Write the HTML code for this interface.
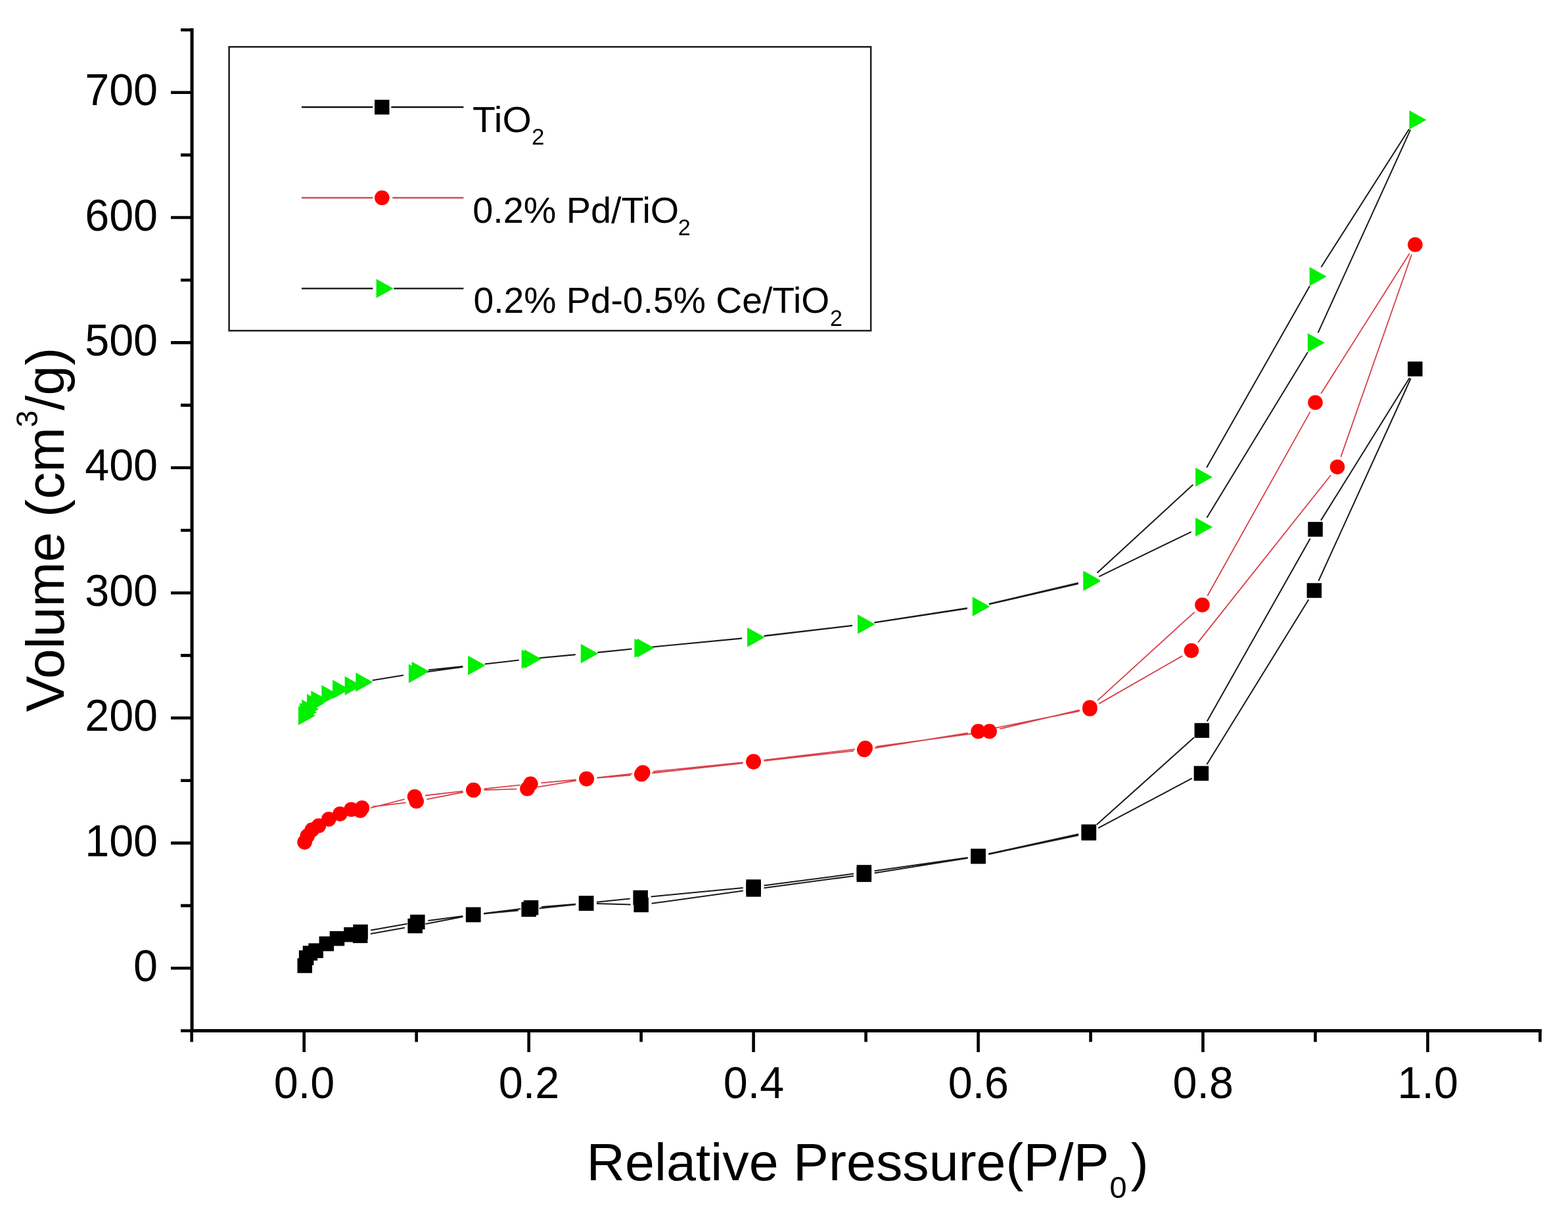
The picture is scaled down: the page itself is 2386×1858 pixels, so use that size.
<!DOCTYPE html>
<html><head><meta charset="utf-8"><title>Isotherm</title>
<style>html,body{margin:0;padding:0;background:#fff;overflow:hidden;width:2386px;height:1858px;}svg{display:block;}</style>
</head><body>
<svg width="2386" height="1858" viewBox="0 0 2386 1858">
<rect width="2386" height="1858" fill="#ffffff"/>
<g fill="none" stroke-linecap="butt">
<path d="M563.9 1421.0L615.9 1411.8M647.3 1405.9L704.5 1395.0M736.1 1390.5L788.7 1385.4M820.6 1382.2L876.1 1376.4M908.0 1375.1L959.6 1376.5M991.5 1374.8L1130.8 1355.6M1162.5 1351.2L1299.0 1333.0M1330.7 1328.4L1472.8 1305.8M1504.2 1300.0L1641.2 1271.0M1671.0 1260.2L1813.8 1184.4M1836.4 1163.3L1991.4 912.2M2006.4 884.0L2146.7 576.0M2144.9 575.0L2010.0 791.9M1993.7 819.4L1836.7 1097.7M1816.9 1122.3L1668.7 1255.1M1641.2 1269.2L1504.2 1299.3M1472.7 1305.0L1330.7 1325.2M1299.0 1329.6L1162.5 1347.5M1130.7 1351.1L990.5 1364.4M958.7 1367.6L907.9 1372.8M876.1 1375.8L824.0 1379.9M792.2 1383.1L736.1 1389.9M704.3 1393.9L651.3 1401.0M619.6 1405.8L564.3 1415.4" stroke="#1a1a1a" stroke-width="2.0"/>
<path d="M566.8 1227.5L617.8 1221.3M649.4 1216.3L704.8 1205.5M736.5 1202.0L786.4 1200.7M818.2 1197.7L876.8 1187.9M908.5 1183.9L960.2 1179.6M992.1 1176.5L1130.7 1161.3M1162.5 1157.8L1299.3 1142.7M1331.0 1138.4L1472.8 1115.5M1504.3 1109.8L1642.7 1082.0M1672.2 1070.9L1799.1 998.1M1822.9 977.6L2025.1 723.0M2040.3 695.4L2148.1 387.3M2144.8 385.7L2010.1 599.1M1993.7 626.6L1837.3 906.7M1817.7 931.4L1670.2 1065.8M1642.8 1080.3L1521.2 1109.2M1489.8 1115.0L1332.6 1136.1M1300.9 1140.1L1162.5 1156.7M1130.7 1160.2L994.1 1174.0M962.3 1177.3L908.4 1183.3M876.6 1186.5L823.3 1191.4M791.5 1194.6L736.5 1200.3M704.6 1203.8L647.0 1210.5M615.6 1216.2L563.7 1229.5" stroke="#d8404a" stroke-width="1.8"/>
<path d="M566.7 1035.2L614.0 1027.6M647.2 1022.7L704.4 1014.9M737.7 1010.6L785.6 1005.0M819.0 1001.5L875.8 996.2M909.3 993.0L957.4 988.0M990.8 984.7L1129.2 971.5M1162.6 968.0L1297.2 952.1M1330.4 947.6L1472.0 925.9M1505.0 919.6L1640.8 888.4M1672.3 877.3L1812.7 809.4M1836.5 787.7L1989.9 536.0M2005.6 506.3L2146.2 197.7M2144.2 196.5L2010.4 406.5M1993.0 435.3L1836.1 711.5M1815.4 737.5L1669.5 871.8M1640.8 887.0L1504.9 918.9M1472.0 925.3L1330.4 947.2M1297.2 951.7L1162.6 967.6M1129.2 971.2L994.9 984.3M961.5 987.6L909.3 992.8M875.8 996.1L823.3 1001.1M789.8 1004.6L737.7 1010.5M704.3 1014.1L651.9 1019.5" stroke="#1a1a1a" stroke-width="2.0"/>
</g>
<g>
<rect x="452.5" y="1458.2" width="22.5" height="22.5" fill="#000"/>
<rect x="454.9" y="1446.2" width="22.5" height="22.5" fill="#000"/>
<rect x="460.7" y="1439.2" width="22.5" height="22.5" fill="#000"/>
<rect x="469.4" y="1435.4" width="22.5" height="22.5" fill="#000"/>
<rect x="485.6" y="1424.9" width="22.5" height="22.5" fill="#000"/>
<rect x="501.7" y="1416.9" width="22.5" height="22.5" fill="#000"/>
<rect x="523.3" y="1411.0" width="22.5" height="22.5" fill="#000"/>
<rect x="536.9" y="1412.6" width="22.5" height="22.5" fill="#000"/>
<rect x="620.4" y="1397.7" width="22.5" height="22.5" fill="#000"/>
<rect x="708.9" y="1380.8" width="22.5" height="22.5" fill="#000"/>
<rect x="793.4" y="1372.6" width="22.5" height="22.5" fill="#000"/>
<rect x="880.8" y="1363.4" width="22.5" height="22.5" fill="#000"/>
<rect x="964.4" y="1365.7" width="22.5" height="22.5" fill="#000"/>
<rect x="1135.4" y="1342.1" width="22.5" height="22.5" fill="#000"/>
<rect x="1303.6" y="1319.6" width="22.5" height="22.5" fill="#000"/>
<rect x="1477.3" y="1292.0" width="22.5" height="22.5" fill="#000"/>
<rect x="1645.6" y="1256.4" width="22.5" height="22.5" fill="#000"/>
<rect x="1816.7" y="1165.6" width="22.5" height="22.5" fill="#000"/>
<rect x="1988.6" y="887.3" width="22.5" height="22.5" fill="#000"/>
<rect x="2142.1" y="550.2" width="22.5" height="22.5" fill="#000"/>
<rect x="1990.3" y="794.2" width="22.5" height="22.5" fill="#000"/>
<rect x="1817.6" y="1100.3" width="22.5" height="22.5" fill="#000"/>
<rect x="1645.6" y="1254.5" width="22.5" height="22.5" fill="#000"/>
<rect x="1477.3" y="1291.5" width="22.5" height="22.5" fill="#000"/>
<rect x="1303.6" y="1316.2" width="22.5" height="22.5" fill="#000"/>
<rect x="1135.4" y="1338.3" width="22.5" height="22.5" fill="#000"/>
<rect x="963.4" y="1354.7" width="22.5" height="22.5" fill="#000"/>
<rect x="880.8" y="1363.2" width="22.5" height="22.5" fill="#000"/>
<rect x="796.8" y="1369.9" width="22.5" height="22.5" fill="#000"/>
<rect x="708.9" y="1380.6" width="22.5" height="22.5" fill="#000"/>
<rect x="624.1" y="1391.8" width="22.5" height="22.5" fill="#000"/>
<rect x="537.3" y="1406.8" width="22.5" height="22.5" fill="#000"/>
<circle cx="463.6" cy="1281.6" r="11.3" fill="#ff0000"/>
<circle cx="467.8" cy="1272.1" r="11.3" fill="#ff0000"/>
<circle cx="474.7" cy="1262.9" r="11.3" fill="#ff0000"/>
<circle cx="484.9" cy="1256.5" r="11.3" fill="#ff0000"/>
<circle cx="500.3" cy="1246.6" r="11.3" fill="#ff0000"/>
<circle cx="517.4" cy="1238.6" r="11.3" fill="#ff0000"/>
<circle cx="534.5" cy="1231.7" r="11.3" fill="#ff0000"/>
<circle cx="550.9" cy="1229.4" r="11.3" fill="#ff0000"/>
<circle cx="633.7" cy="1219.3" r="11.3" fill="#ff0000"/>
<circle cx="720.5" cy="1202.4" r="11.3" fill="#ff0000"/>
<circle cx="802.4" cy="1200.3" r="11.3" fill="#ff0000"/>
<circle cx="892.5" cy="1185.3" r="11.3" fill="#ff0000"/>
<circle cx="976.2" cy="1178.2" r="11.3" fill="#ff0000"/>
<circle cx="1146.6" cy="1159.6" r="11.3" fill="#ff0000"/>
<circle cx="1315.2" cy="1140.9" r="11.3" fill="#ff0000"/>
<circle cx="1488.6" cy="1112.9" r="11.3" fill="#ff0000"/>
<circle cx="1658.4" cy="1078.8" r="11.3" fill="#ff0000"/>
<circle cx="1812.9" cy="990.1" r="11.3" fill="#ff0000"/>
<circle cx="2035.0" cy="710.5" r="11.3" fill="#ff0000"/>
<circle cx="2153.4" cy="372.2" r="11.3" fill="#ff0000"/>
<circle cx="2001.5" cy="612.6" r="11.3" fill="#ff0000"/>
<circle cx="1829.5" cy="920.6" r="11.3" fill="#ff0000"/>
<circle cx="1658.4" cy="1076.6" r="11.3" fill="#ff0000"/>
<circle cx="1505.7" cy="1112.9" r="11.3" fill="#ff0000"/>
<circle cx="1316.7" cy="1138.2" r="11.3" fill="#ff0000"/>
<circle cx="1146.6" cy="1158.6" r="11.3" fill="#ff0000"/>
<circle cx="978.2" cy="1175.6" r="11.3" fill="#ff0000"/>
<circle cx="892.5" cy="1185.1" r="11.3" fill="#ff0000"/>
<circle cx="807.4" cy="1192.9" r="11.3" fill="#ff0000"/>
<circle cx="720.5" cy="1202.0" r="11.3" fill="#ff0000"/>
<circle cx="631.1" cy="1212.3" r="11.3" fill="#ff0000"/>
<circle cx="548.2" cy="1233.4" r="11.3" fill="#ff0000"/>
<path d="M454.0 1074.4L480.0 1088.9L454.0 1103.4Z" fill="#00f000"/>
<path d="M456.1 1069.5L482.1 1084.0L456.1 1098.5Z" fill="#00f000"/>
<path d="M459.2 1064.5L485.2 1079.0L459.2 1093.5Z" fill="#00f000"/>
<path d="M467.0 1056.0L493.0 1070.5L467.0 1085.0Z" fill="#00f000"/>
<path d="M473.4 1051.0L499.4 1065.5L473.4 1080.0Z" fill="#00f000"/>
<path d="M489.4 1042.6L515.4 1057.1L489.4 1071.6Z" fill="#00f000"/>
<path d="M506.0 1034.5L532.0 1049.0L506.0 1063.5Z" fill="#00f000"/>
<path d="M524.6 1029.1L550.6 1043.6L524.6 1058.1Z" fill="#00f000"/>
<path d="M541.4 1023.4L567.4 1037.9L541.4 1052.4Z" fill="#00f000"/>
<path d="M621.9 1010.5L647.9 1025.0L621.9 1039.5Z" fill="#00f000"/>
<path d="M712.4 998.1L738.4 1012.6L712.4 1027.1Z" fill="#00f000"/>
<path d="M793.6 988.6L819.6 1003.1L793.6 1017.6Z" fill="#00f000"/>
<path d="M883.9 980.2L909.9 994.7L883.9 1009.2Z" fill="#00f000"/>
<path d="M965.4 971.8L991.4 986.3L965.4 1000.8Z" fill="#00f000"/>
<path d="M1137.3 955.4L1163.3 969.9L1137.3 984.4Z" fill="#00f000"/>
<path d="M1305.2 935.6L1331.2 950.1L1305.2 964.6Z" fill="#00f000"/>
<path d="M1479.9 908.8L1505.9 923.3L1479.9 937.8Z" fill="#00f000"/>
<path d="M1648.5 870.2L1674.5 884.7L1648.5 899.2Z" fill="#00f000"/>
<path d="M1819.1 787.5L1845.1 802.0L1819.1 816.5Z" fill="#00f000"/>
<path d="M1989.9 507.1L2015.9 521.6L1989.9 536.1Z" fill="#00f000"/>
<path d="M2144.5 167.9L2170.5 182.4L2144.5 196.9Z" fill="#00f000"/>
<path d="M1992.7 406.2L2018.7 420.7L1992.7 435.2Z" fill="#00f000"/>
<path d="M1819.1 711.6L1845.1 726.1L1819.1 740.6Z" fill="#00f000"/>
<path d="M1648.5 868.6L1674.5 883.1L1648.5 897.6Z" fill="#00f000"/>
<path d="M1479.9 908.2L1505.9 922.7L1479.9 937.2Z" fill="#00f000"/>
<path d="M1305.2 935.3L1331.2 949.8L1305.2 964.3Z" fill="#00f000"/>
<path d="M1137.3 955.1L1163.3 969.6L1137.3 984.1Z" fill="#00f000"/>
<path d="M969.5 971.4L995.5 985.9L969.5 1000.4Z" fill="#00f000"/>
<path d="M883.9 980.0L909.9 994.5L883.9 1009.0Z" fill="#00f000"/>
<path d="M797.9 988.2L823.9 1002.7L797.9 1017.2Z" fill="#00f000"/>
<path d="M712.4 997.9L738.4 1012.4L712.4 1026.9Z" fill="#00f000"/>
<path d="M626.6 1006.7L652.6 1021.2L626.6 1035.7Z" fill="#00f000"/>
</g>
<g stroke="#000" fill="none">
<path d="M292.1 45.5V1568.5H2343.5" stroke-width="5.0" stroke-linecap="square" stroke-linejoin="miter"/>
<path d="M292.1 1473.3H260.0M292.1 1282.9H260.0M292.1 1092.5H260.0M292.1 902.2H260.0M292.1 711.8H260.0M292.1 521.4H260.0M292.1 331.0H260.0M292.1 140.7H260.0M292.1 1568.5H275.0M292.1 1378.1H275.0M292.1 1187.7H275.0M292.1 997.4H275.0M292.1 807.0H275.0M292.1 616.6H275.0M292.1 426.2H275.0M292.1 235.9H275.0M292.1 45.5H275.0M462.7 1568.5V1601.0M804.7 1568.5V1601.0M1146.6 1568.5V1601.0M1488.6 1568.5V1601.0M1830.5 1568.5V1601.0M2172.5 1568.5V1601.0M291.7 1568.5V1585.5M633.7 1568.5V1585.5M975.6 1568.5V1585.5M1317.6 1568.5V1585.5M1659.6 1568.5V1585.5M2001.5 1568.5V1585.5M2343.5 1568.5V1585.5" stroke-width="4.6"/>
</g>
<g font-family="'Liberation Sans', Arial, sans-serif" font-size="66.5" fill="#000">
<text transform="translate(240.1 1492.90) scale(1 1.030)" text-anchor="end">0</text>
<text transform="translate(240.1 1302.52) scale(1 1.030)" text-anchor="end">100</text>
<text transform="translate(240.1 1112.15) scale(1 1.030)" text-anchor="end">200</text>
<text transform="translate(240.1 921.77) scale(1 1.030)" text-anchor="end">300</text>
<text transform="translate(240.1 731.40) scale(1 1.030)" text-anchor="end">400</text>
<text transform="translate(240.1 541.02) scale(1 1.030)" text-anchor="end">500</text>
<text transform="translate(240.1 350.65) scale(1 1.030)" text-anchor="end">600</text>
<text transform="translate(240.1 160.27) scale(1 1.030)" text-anchor="end">700</text>
<text transform="translate(463.00 1671.0) scale(1 1.030)" text-anchor="middle">0.0</text>
<text transform="translate(804.96 1671.0) scale(1 1.030)" text-anchor="middle">0.2</text>
<text transform="translate(1146.92 1671.0) scale(1 1.030)" text-anchor="middle">0.4</text>
<text transform="translate(1488.88 1671.0) scale(1 1.030)" text-anchor="middle">0.6</text>
<text transform="translate(1830.84 1671.0) scale(1 1.030)" text-anchor="middle">0.8</text>
<text transform="translate(2172.80 1671.0) scale(1 1.030)" text-anchor="middle">1.0</text>
</g>
<text font-family="'Liberation Sans', Arial, sans-serif" font-size="80" fill="#000" transform="translate(892.60 1796.3) scale(1.0107 1)">Relative Pressure(P/P<tspan x="787.40" y="26.5" font-size="46.5">0</tspan><tspan x="819.50" y="0">)</tspan></text>
<text font-family="'Liberation Sans', Arial, sans-serif" font-size="82.0" fill="#000" transform="translate(97.00 1083.20) rotate(-90)">Volume (cm<tspan font-size="46.5" dy="-40.0">3</tspan><tspan dy="40.0">/g)</tspan></text>
<rect x="348.6" y="71.3" width="976.6" height="431.9" fill="none" stroke="#222" stroke-width="2.6"/>
<path d="M459.0 163.0H567.3M595.3 163.0H705.4" stroke="#111" stroke-width="2.4" fill="none"/>
<path d="M459.0 301.0H567.3M597.3 301.0H705.4" stroke="#c8505a" stroke-width="2.4" fill="none"/>
<path d="M459.0 439.0H567.3M599.3 439.0H705.4" stroke="#222" stroke-width="2.4" fill="none"/>
<rect x="570.0" y="151.8" width="22.5" height="22.5" fill="#000"/>
<circle cx="581.3" cy="301.0" r="11.3" fill="#ff0000"/>
<path d="M572.6 424.5L598.6 439.0L572.6 453.5Z" fill="#00f000"/>
<g font-family="'Liberation Sans', Arial, sans-serif" font-size="56.3" fill="#000">
<text transform="translate(719.10 200.60) scale(1.0130 1)">TiO<tspan x="88.70" y="19.5" font-size="34.5">2</tspan></text>
<text transform="translate(719.20 338.60) scale(0.9907 1)">0.2% Pd/TiO<tspan x="315.60" y="19.5" font-size="34.5">2</tspan></text>
<text transform="translate(720.40 476.30) scale(0.9824 1)">0.2% Pd-0.5% Ce/TiO<tspan x="552.20" y="19.5" font-size="34.5">2</tspan></text>
</g>
</svg>
</body></html>
